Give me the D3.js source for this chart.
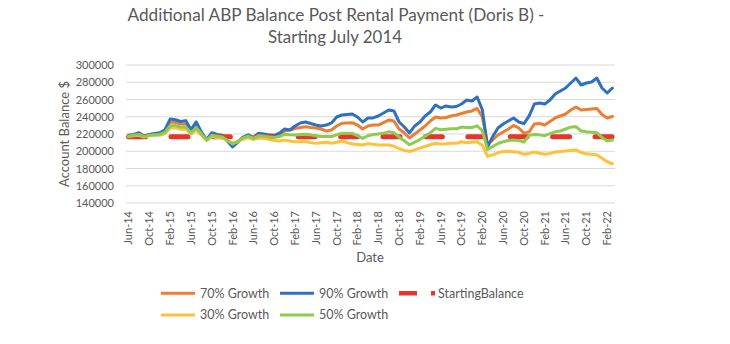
<!DOCTYPE html>
<html><head><meta charset="utf-8">
<script src="https://cdn.jsdelivr.net/npm/d3@7"></script>
<style>body{margin:0;background:#fff}svg{display:block}text{font-family:Lato,"Open Sans",sans-serif}</style>
</head><body><svg id="c" width="730" height="344"></svg>
<script>
const months = [
"Jun-14","Jul-14","Aug-14","Sep-14","Oct-14","Nov-14","Dec-14",
"Jan-15","Feb-15","Mar-15","Apr-15","May-15","Jun-15","Jul-15","Aug-15","Sep-15","Oct-15","Nov-15","Dec-15",
"Jan-16","Feb-16","Mar-16","Apr-16","May-16","Jun-16","Jul-16","Aug-16","Sep-16","Oct-16","Nov-16","Dec-16",
"Jan-17","Feb-17","Mar-17","Apr-17","May-17","Jun-17","Jul-17","Aug-17","Sep-17","Oct-17","Nov-17","Dec-17",
"Jan-18","Feb-18","Mar-18","Apr-18","May-18","Jun-18","Jul-18","Aug-18","Sep-18","Oct-18","Nov-18","Dec-18",
"Jan-19","Feb-19","Mar-19","Apr-19","May-19","Jun-19","Jul-19","Aug-19","Sep-19","Oct-19","Nov-19","Dec-19",
"Jan-20","Feb-20","Mar-20","Apr-20","May-20","Jun-20","Jul-20","Aug-20","Sep-20","Oct-20","Nov-20","Dec-20",
"Jan-21","Feb-21","Mar-21","Apr-21","May-21","Jun-21","Jul-21","Aug-21","Sep-21","Oct-21","Nov-21","Dec-21",
"Jan-22","Feb-22","Mar-22"];
const xTickLabels = ["Jun-14","Oct-14","Feb-15","Jun-15","Oct-15","Feb-16","Jun-16","Oct-16","Feb-17","Jun-17","Oct-17","Feb-18","Jun-18","Oct-18","Feb-19","Jun-19","Oct-19","Feb-20","Jun-20","Oct-20","Feb-21","Jun-21","Oct-21","Feb-22"];
const yTicks = [140000,160000,180000,200000,220000,240000,260000,280000,300000];

// values in thousands of dollars
const growth70 = [218,219,220.5,217.5,219.5,220,221,224,234,233.5,231.5,232,223.5,231,221.5,213.5,220.5,218.5,218,212,206,211,216,218.5,215.5,220,219,217.5,217,219,
223.5,224.6,226.4,227.5,228.5,227.5,227,225.8,223.5,224.6,229.3,232.4,232.8,233.1,230.4,225.8,229.3,230.4,230.4,233.3,236.2,235.1,225.8,221.2,215.4,220,224.6,229.3,235.1,239.7,
238.6,239.1,240.9,242,243.8,245.5,246.7,249.6,239.7,208,213,218.8,222.3,225.8,229.9,227,221,222.5,231.6,232.2,230.4,234.5,238.6,240.9,243.2,247.8,251.3,247.8,248.4,249,249.6,242.6,238.6,240.3];
const growth90 = [218.5,219.5,221.5,217.5,219.5,220.5,221.5,225,237.5,236.5,234.5,235.5,225,234,222,213.5,221.5,219.5,218.5,212,205,210.5,216.5,219,216,221,220,219,218.5,221,
225.8,224.6,229.3,232.8,233.9,232.2,230.4,229.3,230.4,232.8,239.7,242,242.6,243.2,239.7,233.9,238.6,238.6,240.9,244.3,247.8,246.7,233.9,228.1,221.2,229.3,233.9,240.9,245.5,253.6,
250.1,252.5,251.3,251.9,254.8,259.4,258.3,262.9,248,205,217,227,231.6,235.1,238.6,233.9,232,241,254.8,255.9,254.8,259.4,266.4,269.9,273.3,279.1,284.9,276.8,279.1,280.3,284.9,273.3,267.5,273.3];
const startingBalance = months.map(() => 216.8);
const growth30 = [217,218,218.5,216.5,218,218.5,218.5,220.5,227,227.5,225.5,225.5,220,224.5,218.5,212.5,217,216,215.5,212.5,209.5,211,214,215.5,213.5,215.5,215,213.5,212.5,212,
213,212,211,211,211,210,209.2,209.8,210.5,209.3,210.5,211.9,210,208.4,207.8,207.2,208.8,208.2,207.2,207.2,207.2,205.8,203,201,199.7,201.5,203.8,205.5,207.5,209.2,
208.3,208.6,209.2,209.2,211,209.8,210.5,211.1,207,194,195.8,198.2,199.8,200,199.5,198.8,196.5,197.5,199,197.6,196.6,197.5,199,199.6,200.3,201.2,201.5,198.5,197,196.5,196,192,187.8,185.5];
const growth50 = [217.5,218.5,219.5,217,218.5,219,219.5,222,229.5,230,228,228,221.5,227.5,220,213,218.5,217.5,216.5,212.5,208.5,211.5,215.5,217.5,215,218,217.5,216.5,216,217,
219.5,219,218.8,219.3,219.7,219,218,217,217,217,219,220.8,221,220.8,218,215,218,219.5,220,221,222.5,221.5,216.5,212,207.5,210.5,213.5,217.5,221.5,226.5,
225,225.5,226,226,228,227.5,227.5,229.5,224,202,205.5,209,211,212.5,213,212.5,210.5,218.5,219.5,219,218,220.5,222.5,223.5,225.8,228,228.5,223.5,222.5,222,221.5,216,212,213];

const series = [
  {name:"70% Growth", values:growth70, color:"#ED7D31", width:3},
  {name:"90% Growth", values:growth90, color:"#2F71BE", width:3},
  {name:"StartingBalance", values:startingBalance, color:"#E8352B", width:5, dash:"17,25.4", cap:"round"},
  {name:"30% Growth", values:growth30, color:"#FDC13A", width:3},
  {name:"50% Growth", values:growth50, color:"#8FCB4F", width:3}
];

const svg = d3.select("#c");
const x = d3.scaleBand().domain(months).range([126,615]);
const y = d3.scaleLinear().domain([140000,300000]).range([203,65]);
const cx = m => x(m) + x.bandwidth()/2;
const txt = "#595959";

// title
const title = svg.append("text").attr("text-anchor","middle").attr("fill",txt).style("font-size","18px");
title.append("tspan").attr("x",336).attr("y",20.7).attr("textLength",417).attr("lengthAdjust","spacingAndGlyphs")
  .text("Additional ABP Balance Post Rental Payment (Doris B) -");
title.append("tspan").attr("x",335).attr("y",43.3).attr("textLength",134).attr("lengthAdjust","spacingAndGlyphs")
  .text("Starting July 2014");

// gridlines
svg.append("g").selectAll("line").data(yTicks).join("line")
  .attr("x1",126).attr("x2",615).attr("y1",d=>y(d)).attr("y2",d=>y(d))
  .attr("stroke","#D9D9D9").attr("stroke-width",1);

// y axis
const ya = svg.append("g").attr("transform","translate(126,0)")
  .call(d3.axisLeft(y).tickValues(yTicks).tickSize(0).tickPadding(12).tickFormat(d3.format("d")));
ya.select(".domain").remove();
ya.selectAll("text").attr("fill",txt).style("font-size","11px").style("font-family","Lato,sans-serif");

// x axis
const xa = svg.append("g").attr("transform","translate(0,203)")
  .call(d3.axisBottom(x).tickValues(xTickLabels).tickSize(0));
xa.select(".domain").remove();
xa.selectAll("text").attr("transform","rotate(-90)").attr("text-anchor","end")
  .attr("x",-8).attr("y",0).attr("dy","0.35em")
  .attr("fill",txt).style("font-size","11px").style("font-family","Lato,sans-serif");

// axis titles
svg.append("text").attr("x",370).attr("y",262).attr("text-anchor","middle").attr("fill",txt)
  .style("font-size","13px").text("Date");
svg.append("text").attr("transform","translate(69,134) rotate(-90)").attr("text-anchor","middle").attr("fill",txt)
  .style("font-size","13px").text("Account Balance $");

// lines
const line = d3.line().x((d,i)=>cx(months[i])).y(d=>y(d*1000));
svg.append("g").selectAll("path").data(series).join("path")
  .attr("d",d=>line(d.values)).attr("fill","none")
  .attr("stroke",d=>d.color).attr("stroke-width",d=>d.width)
  .attr("stroke-linejoin","round").attr("stroke-linecap",d=>d.cap||"round")
  .attr("stroke-dasharray",d=>d.dash||null);

// legend
const legendPos = [
  {s:series[0], x:161, y:293.3},
  {s:series[1], x:280, y:293.3},
  {s:series[2], x:399, y:293.3},
  {s:series[3], x:161, y:315},
  {s:series[4], x:280, y:315}
];
const lg = svg.append("g").selectAll("g").data(legendPos).join("g")
  .attr("transform",d=>`translate(${d.x},${d.y})`);
lg.append("line").attr("x1",0).attr("x2",d=>d.s.dash?36:34).attr("y1",0).attr("y2",0)
  .attr("stroke",d=>d.s.color).attr("stroke-width",d=>d.s.dash?4.5:3)
  .attr("stroke-dasharray",d=>d.s.dash?"18,14":null).attr("stroke-linecap","butt");
lg.append("text").attr("x",39).attr("y",0).attr("dy","0.35em").attr("fill",txt)
  .style("font-size","12.5px").text(d=>d.s.name);
</script></body></html>
